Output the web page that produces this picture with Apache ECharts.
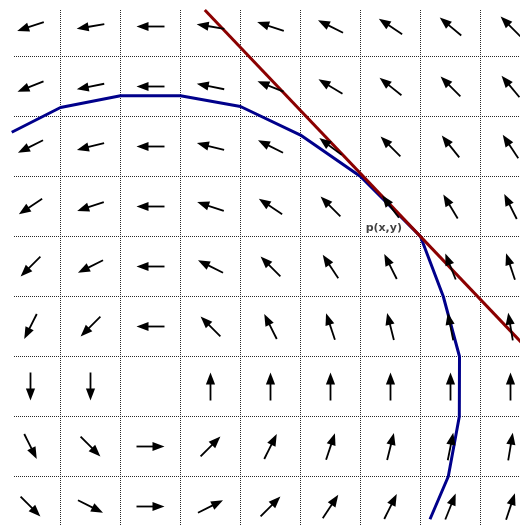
<!DOCTYPE html>
<html>
<head>
<meta charset="utf-8">
<script src="https://cdn.jsdelivr.net/npm/echarts@6/dist/echarts.min.js"></script>
<style>
  html, body { margin: 0; padding: 0; background: #ffffff; }
  #chart { width: 520px; height: 525px; }
</style>
</head>
<body>
<div id="chart"></div>
<script>
// Sample positions of the direction field
const xs = [-2, -1, 0, 1, 2, 3, 4, 5, 6];
const ys = [6, 5, 4, 3, 2, 1, 0, -1, -2];

// Field components at each sample (rows follow ys, columns follow xs)
const U = [
  [-6, -6, -6, -6, -6, -6, -6, -6, -6],
  [-5, -5, -5, -5, -5, -5, -5, -5, -5],
  [-4, -4, -4, -4, -4, -4, -4, -4, -4],
  [-3, -3, -3, -3, -3, -3, -3, -3, -3],
  [-2, -2, -2, -2, -2, -2, -2, -2, -2],
  [-1, -1, -1, -1, -1, -1, -1, -1, -1],
  [0, 0, 0, 0, 0, 0, 0, 0, 0],
  [1, 1, 1, 1, 1, 1, 1, 1, 1],
  [2, 2, 2, 2, 2, 2, 2, 2, 2]
];
const V = [
  [-2, -1, 0, 1, 2, 3, 4, 5, 6],
  [-2, -1, 0, 1, 2, 3, 4, 5, 6],
  [-2, -1, 0, 1, 2, 3, 4, 5, 6],
  [-2, -1, 0, 1, 2, 3, 4, 5, 6],
  [-2, -1, 0, 1, 2, 3, 4, 5, 6],
  [-2, -1, 0, 1, 2, 3, 4, 5, 6],
  [-2, -1, 0, 1, 2, 3, 4, 5, 6],
  [-2, -1, 0, 1, 2, 3, 4, 5, 6],
  [-2, -1, 0, 1, 2, 3, 4, 5, 6]
];

// Cell borders of the sampling grid
const gridXs = [-1.5, -0.5, 0.5, 1.5, 2.5, 3.5, 4.5, 5.5];
const gridYs = [5.5, 4.5, 3.5, 2.5, 1.5, 0.5, -0.5, -1.5];

// Solution curve through p
const curveX = [-2.313, -1.5, -0.5, 0.5, 1.5, 2.5, 3.5, 4.5, 4.88, 5.15, 5.147, 4.963, 4.658];
const curveY = [4.237, 4.65, 4.847, 4.847, 4.667, 4.19, 3.5, 2.5, 1.5, 0.5, -0.5, -1.5, -2.213];

// Tangent line at p
const tangentX = [0.905, 6.2];
const tangentY = [6.275, 0.715];

// Point p and its label
const pPoint = [4.5, 2.5];
const pLabel = 'p(x,y)';

// Visible window in field units
const X_MIN = -2.5083, X_MAX = 6.1583;
const Y_MIN = -2.3083, Y_MAX = 6.4417;
const FIELD_LEFT = -2.275, FIELD_TOP = 6.275;

const arrowData = [];
ys.forEach((y, r) => {
  xs.forEach((x, c) => {
    arrowData.push([x, y, U[r][c], V[r][c]]);
  });
});

const gridData = gridXs.map(x => [0, x]).concat(gridYs.map(y => [1, y]));

const chart = echarts.init(document.getElementById('chart'), null, { renderer: 'canvas' });

chart.setOption({
  animation: false,
  backgroundColor: '#ffffff',
  grid: { left: 0, top: 0, right: 0, bottom: 0, containLabel: false },
  xAxis: { type: 'value', min: X_MIN, max: X_MAX, show: false },
  yAxis: { type: 'value', min: Y_MIN, max: Y_MAX, show: false },
  series: [
    {
      // dotted cell borders
      type: 'custom',
      z: 1,
      silent: true,
      clip: false,
      data: gridData,
      encode: { x: -1, y: -1 },
      renderItem: function (params, api) {
        const kind = api.value(0), pos = api.value(1);
        let a, b;
        if (kind === 0) {
          a = api.coord([pos, FIELD_TOP]);
          b = api.coord([pos, Y_MIN]);
        } else {
          a = api.coord([FIELD_LEFT, pos]);
          b = api.coord([X_MAX, pos]);
        }
        return {
          type: 'line',
          shape: { x1: a[0], y1: a[1], x2: b[0], y2: b[1] },
          style: { stroke: '#2a2a2a', lineWidth: 1, lineDash: [1, 1] }
        };
      }
    },
    {
      type: 'line',
      z: 2,
      silent: true,
      data: curveX.map((x, i) => [x, curveY[i]]),
      showSymbol: false,
      symbol: 'none',
      lineStyle: { color: '#00008B', width: 3 }
    },
    {
      type: 'line',
      z: 3,
      silent: true,
      data: tangentX.map((x, i) => [x, tangentY[i]]),
      showSymbol: false,
      symbol: 'none',
      lineStyle: { color: '#8B0000', width: 3 }
    },
    {
      // normalized direction arrows, pivoted at their middle
      type: 'custom',
      z: 4,
      silent: true,
      data: arrowData,
      encode: { x: 0, y: 1 },
      renderItem: function (params, api) {
        const u = api.value(2), v = api.value(3);
        if (u === 0 && v === 0) return null;
        const c = api.coord([api.value(0), api.value(1)]);
        const len = Math.hypot(u, v);
        const dx = u / len, dy = -v / len;
        const half = 14, headLen = 12, headHalf = 4.6;
        const tail = [c[0] - dx * half, c[1] - dy * half];
        const tip = [c[0] + dx * half, c[1] + dy * half];
        const base = [tip[0] - dx * headLen, tip[1] - dy * headLen];
        const nx = -dy, ny = dx;
        return {
          type: 'group',
          children: [
            {
              type: 'line',
              shape: { x1: tail[0], y1: tail[1], x2: base[0] + dx, y2: base[1] + dy },
              style: { stroke: '#000000', lineWidth: 1.8 }
            },
            {
              type: 'polygon',
              shape: {
                points: [
                  tip,
                  [base[0] + nx * headHalf, base[1] + ny * headHalf],
                  [base[0] - nx * headHalf, base[1] - ny * headHalf]
                ]
              },
              style: { fill: '#000000' }
            }
          ]
        };
      }
    },
    {
      type: 'scatter',
      z: 5,
      silent: true,
      data: [pPoint],
      symbolSize: 0,
      label: {
        show: true,
        formatter: pLabel,
        position: 'left',
        distance: 18.5,
        offset: [0, -8.5],
        fontFamily: 'DejaVu Sans',
        fontWeight: 'bold',
        fontSize: 11,
        color: '#111111'
      }
    }
  ]
});
</script>
</body>
</html>
